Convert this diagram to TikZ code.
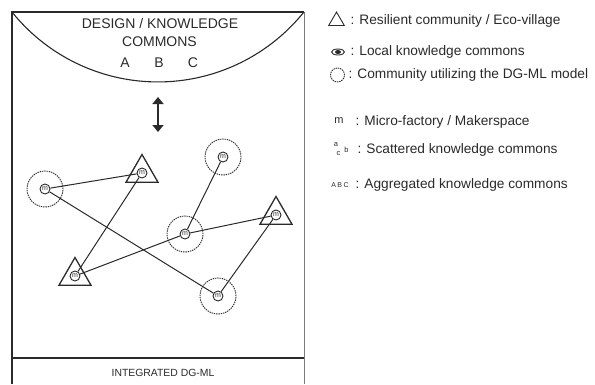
\documentclass[tikz,border=0pt]{standalone}
\usepackage{fontspec}
\setmainfont{Liberation Sans}
\usepackage{xcolor}
\usepackage{tikz}
\usetikzlibrary{shapes.geometric, arrows.meta}
\definecolor{ink}{HTML}{2A2A2A}
\definecolor{pale}{HTML}{7A7A7A}
\tikzset{
x=1pt, y=1pt, % one unit is one pixel of the layout
mf/.style={circle, draw=ink, line width=0.9pt, minimum size=10pt, inner sep=0pt, text=ink, font=\fontsize{7}{7}\selectfont}, % micro-factory in its local commons
community/.style={circle, draw=ink, dash pattern=on 1.4pt off 0.9pt, line width=0.9pt, minimum size=36pt, inner sep=0pt}, % dashed ring
village/.style={regular polygon, regular polygon sides=3, draw=ink, line width=1.3pt, minimum size=37pt, inner sep=0pt}, % eco-village
link/.style={draw=ink, line width=1pt}, % the lines between nodes
caps/.style={text=ink, font=\fontsize{14}{16}\selectfont},
legtext/.style={anchor=west, text=ink, font=\fontsize{13.7}{15}\selectfont},
}

\begin{document}
\begin{tikzpicture}
        \useasboundingbox (0,0) rectangle (595,-384);

        % frame and the commons bowl
        \draw[ink, line width=1.3pt] (12,-384) -- (12,-12) -- (304,-12);
        \draw[pale, line width=1pt] (304,-12) -- (304,-384);
        \draw[ink, line width=1.8pt] (12,-358) -- (304,-358);
        \draw[ink, line width=1.1pt] (12,-12) arc[start angle=218.8, end angle=321.2, radius=187.3];

        \node[caps] (title) at (160,-23) {DESIGN / KNOWLEDGE};
        \node[caps] (title2) at (159.5,-42) {COMMONS};
        \node[caps] (ka) at (125,-63) {A};
        \node[caps] (kb) at (159,-63) {B};
        \node[caps] (kc) at (193,-63) {C};
        \node[text=ink, font=\fontsize{10.4}{12}\selectfont] (base) at (163,-373) {INTEGRATED DG-ML};

        \coordinate (up) at (158,-97);
        \coordinate (down) at (158,-132);
        \draw[ink, line width=2.6pt, {Triangle[width=11pt,length=7pt]}-{Triangle[width=11pt,length=7pt]}] (up) -- (down);

        % communities and villages
        \node[mf] (c1) at (45,-189) {m};
        \node[mf] (t1) at (142,-173) {m};
        \node[mf] (c2) at (223,-157) {m};
        \node[mf] (t2) at (276,-215) {m};
        \node[mf] (c3) at (185,-234) {m};
        \node[mf] (t3) at (75,-276) {m};
        \node[mf] (c4) at (218,-296) {m};

        \node[community] (c1r) at (c1) {};
        \node[community] (c2r) at (c2) {};
        \node[community] (c3r) at (c3) {};
        \node[community] (c4r) at (c4) {};
        \node[village] (t1v) at (t1) {};
        \node[village] (t2v) at (t2) {};
        \node[village] (t3v) at (t3) {};

        \draw[link] (c1) edge (t1)
                         edge (c4)
                    (t1) edge (t3)
                    (t3) edge (c3)
                    (c3) edge (t2)
                         edge (c2)
                    (t2) edge (c4);

        % legend
        \node[village, minimum size=18pt, line width=0.9pt] (lt) at (336.5,-21) {};
        \node[ellipse, draw=ink, line width=0.9pt, minimum width=13pt, minimum height=6pt, inner sep=0pt] (le) at (338,-52) {};
        \fill[ink] (le.center) ellipse[x radius=3, y radius=2];
        \node[community, minimum size=14pt] (lc) at (337.5,-75) {};
        \node[text=ink, font=\fontsize{11}{12}\selectfont] (lm) at (339,-121) {m};
        \node[text=ink, font=\fontsize{7.5}{8}\selectfont, inner sep=0pt] (sa) at (336,-145) {a};
        \node[text=ink, font=\fontsize{7.5}{8}\selectfont, inner sep=0pt] (sc) at (338.5,-154) {c};
        \node[text=ink, font=\fontsize{7.5}{8}\selectfont, inner sep=0pt] (sb) at (346.5,-150) {b};
        \node[text=ink, font=\fontsize{7}{8}\selectfont, inner sep=0pt] (abc) at (340,-185) {A\kern1.5pt B\kern1.5pt C};

        \node[legtext] (l1) at (347,-21) {: Resilient community / Eco-village};
        \node[legtext] (l2) at (347,-52) {: Local knowledge commons};
        \node[legtext] (l3) at (345,-75) {: Community utilizing the DG-ML model};
        \node[legtext] (l4) at (352,-122) {: Micro-factory / Makerspace};
        \node[legtext] (l5) at (354,-150) {: Scattered knowledge commons};
        \node[legtext] (l6) at (352,-185) {: Aggregated knowledge commons};
    \end{tikzpicture}
\end{document}
